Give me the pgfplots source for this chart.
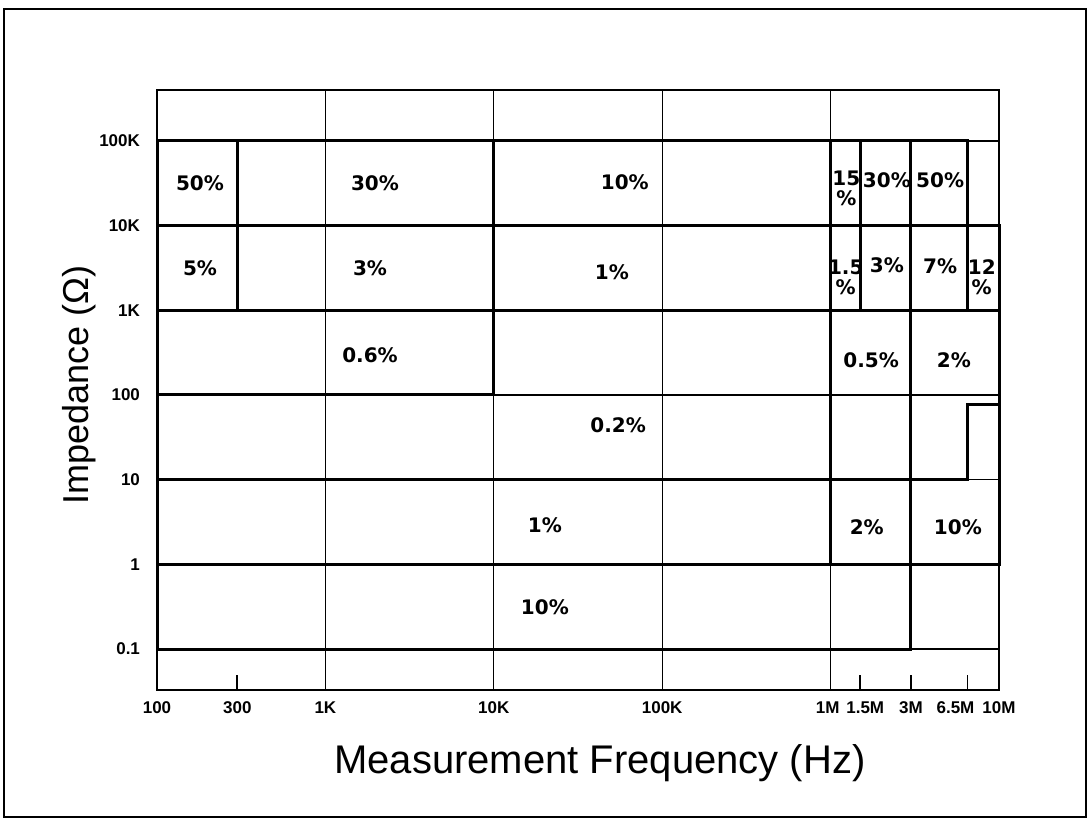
\documentclass[border=0pt]{standalone}
\usepackage{fontspec}
\setmainfont{Liberation Sans}
\newfontfamily\cellfont{DejaVu Sans}
\usepackage{pgfplots}
\pgfplotsset{compat=1.18}
\pgfplotsset{
  region/.style={black, line width=1.5pt, no markers, line cap=rect, line join=miter},
}
\tikzset{
  cell/.style={font=\cellfont\bfseries\fontsize{10}{10}\selectfont, align=center, inner sep=0pt},
}
\begin{document}
\begin{tikzpicture}
\useasboundingbox (0,0) rectangle (544.5pt,410pt);
\draw[line width=1.4pt] (2pt,1.5pt) rectangle (543pt,405.5pt);
\begin{axis}[
  at={(78.5pt,65pt)}, anchor=south west,
  scale only axis, width=421pt, height=300pt,
  xmode=log, ymode=log,
  xmin=100, xmax=1e7, ymin=0.0328, ymax=4e5,
  clip=false,
  xtick={100,1000,10000,100000,1000000,10000000},
  xticklabels={100,1K,10K,100K,{1M\kern3pt},10M},
  extra x ticks={300,1500000,3000000,6500000},
  extra x tick labels={300,{\kern5pt 1.5M},3M,{\hspace*{-12pt}6.5M}},
  extra x tick style={grid=none, major tick length=7.5pt, tick style={line width=0.9pt, black}},
  ytick={0.1,1,10,100,1000,10000,100000},
  yticklabels={0.1,1,10,100,1K,10K,100K},
  grid=major,
  major grid style={line width=0.6pt, black},
  axis line style={line width=0.6pt, black},
  tick align=inside, major tick length=0pt, minor tick length=0pt,
  xtick pos=bottom, ytick pos=left,
  ticklabel style={font=\bfseries\fontsize{8.5}{10}\selectfont},
  xticklabel style={yshift=-2.5pt},
  yticklabel style={xshift=-5pt},
  xlabel={Measurement Frequency (Hz)},
  ylabel={Impedance (Ω)},
  xlabel style={at={(axis description cs:0.526,-0.1217)}, anchor=center, font=\fontsize{20}{24}\selectfont},
  ylabel style={at={(axis description cs:-0.0926,0.508)}, anchor=center, font=\fontsize{18}{22}\selectfont},
]
% region boundaries
\addplot[region] coordinates {(100,1e5) (6.5e6,1e5) (6.5e6,1e3)};
\addplot[region] coordinates {(100,1e4) (1e7,1e4) (1e7,1)};
\addplot[region] coordinates {(100,1e3) (1e7,1e3)};
\addplot[region] coordinates {(100,1e5) (100,0.1) (3e6,0.1) (3e6,1e5)};
\addplot[region] coordinates {(300,1e5) (300,1e3)};
\addplot[region] coordinates {(1e4,1e5) (1e4,100) (100,100)};
\addplot[region] coordinates {(1e6,1e5) (1e6,1)};
\addplot[region] coordinates {(1.5e6,1e5) (1.5e6,1e3)};
\addplot[region] coordinates {(100,10) (6.5e6,10) (6.5e6,78) (1e7,78)};
\addplot[region] coordinates {(100,1) (1e7,1)};
% labels
\node[cell] at (axis cs:180,31900) {50\%};
\node[cell] at (axis cs:1970,31900) {30\%};
\node[cell] at (axis cs:60000,33000) {10\%};
\node[cell] at (axis cs:1.24e6,27900) {15\\\%};
\node[cell] at (axis cs:2.16e6,34600) {30\%};
\node[cell] at (axis cs:4.47e6,34600) {50\%};
\node[cell] at (axis cs:180,3160) {5\%};
\node[cell] at (axis cs:1840,3160) {3\%};
\node[cell] at (axis cs:50300,2840) {1\%};
\node[cell] at (axis cs:1.23e6,2475) {1.5\\\%};
\node[cell] at (axis cs:2.16e6,3430) {3\%};
\node[cell] at (axis cs:4.47e6,3300) {7\%};
\node[cell] at (axis cs:7.9e6,2475) {12\\\%};
\node[cell] at (axis cs:1840,297) {0.6\%};
\node[cell] at (axis cs:1.74e6,259) {0.5\%};
\node[cell] at (axis cs:5.4e6,259) {2\%};
\node[cell] at (axis cs:54700,44.3) {0.2\%};
\node[cell] at (axis cs:20100,2.92) {1\%};
\node[cell] at (axis cs:1.64e6,2.76) {2\%};
\node[cell] at (axis cs:5.7e6,2.76) {10\%};
\node[cell] at (axis cs:20100,0.313) {10\%};
\end{axis}
\end{tikzpicture}
\end{document}
